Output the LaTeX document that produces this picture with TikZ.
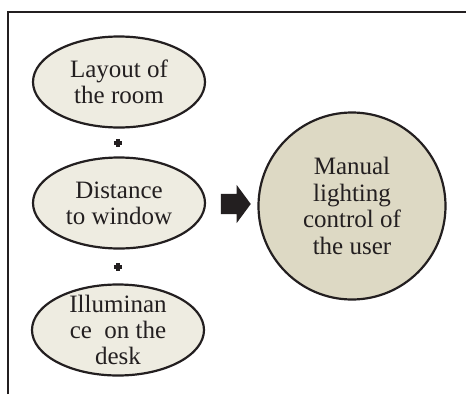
\documentclass[tikz,border=0pt]{standalone}
\usepackage{fontspec}
\setmainfont{Liberation Serif}
\usetikzlibrary{shapes.geometric,shapes.arrows}
\definecolor{inkdark}{HTML}{231F20}
\definecolor{lightbeige}{HTML}{EEECE1}
\definecolor{darkbeige}{HTML}{DDD9C4}

\begin{document}
\begin{tikzpicture}[
  x=1pt, y=-1pt,
  factor/.style={ellipse, draw=inkdark, line width=2.2pt, fill=lightbeige,
    minimum width=172pt, minimum height=91pt, inner sep=0pt, inner ysep=-9pt,
    align=center, text=inkdark, font=\fontsize{25}{26}\selectfont},
  result/.style={circle, draw=inkdark, line width=2.2pt, fill=darkbeige,
    minimum size=187pt, inner sep=0pt, align=center, text=inkdark,
    font=\fontsize{25}{26.5}\selectfont},
  plus/.style={minimum size=8.5pt, inner sep=0pt,
    path picture={\draw[inkdark, line width=3.2pt]
      (path picture bounding box.north) -- (path picture bounding box.south)
      (path picture bounding box.west) -- (path picture bounding box.east);}},
  bigarrow/.style={single arrow, fill=inkdark, inner xsep=0pt, inner ysep=10pt,
    text height=0pt, text depth=0pt, minimum height=30pt,
    single arrow head extend=9pt, single arrow tip angle=107}
]
  \useasboundingbox (0,0) rectangle (466,394);
  \draw[inkdark, line width=2pt] (8,394) -- (8,12) -- (466,12);

  \node[factor] (layout) at (119,82) {Layout of\\the room};
  \node[factor] (distance) at (119,203) {Distance\\to window};
  \node[factor] (illum) at (118,330) {Illuminan\\ce\ \ on the\\desk};

  \node[plus] (plusA) at (118,143) {};
  \node[plus] (plusB) at (118,267) {};

  \node[bigarrow] (arrow) at (232,204) {};

  \node[result] (manual) at (352,206) {Manual\\lighting\\control of\\the user};
\end{tikzpicture}
\end{document}
